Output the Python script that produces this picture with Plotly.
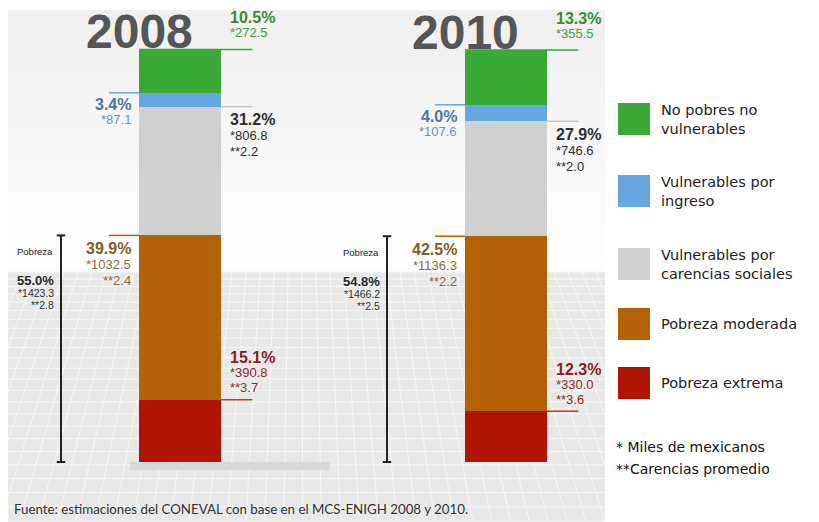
import plotly.graph_objects as go

# ---------------- data ----------------
years = ["2008", "2010"]
pobreza_extrema = [15.1, 12.3]
pobreza_moderada = [39.9, 42.5]
vuln_carencias = [31.2, 27.9]
vuln_ingreso = [3.4, 4.0]
no_pobres = [10.5, 13.3]

miles_extrema = ["390.8", "330.0"]
miles_moderada = ["1032.5", "1136.3"]
miles_carencias = ["806.8", "746.6"]
miles_ingreso = ["87.1", "107.6"]
miles_no_pobres = ["272.5", "355.5"]

car_extrema = ["3.7", "3.6"]
car_moderada = ["2.4", "2.2"]
car_carencias = ["2.2", "2.0"]

pobreza_total = [55.0, 54.8]
miles_pobreza = ["1423.3", "1466.2"]
car_pobreza = ["2.8", "2.5"]

legend_labels = ["No pobres no<br>vulnerables", "Vulnerables por<br>ingreso",
                 "Vulnerables por<br>carencias sociales", "Pobreza moderada",
                 "Pobreza extrema"]
footnotes = ["* Miles de mexicanos", "**Carencias promedio"]
source = "Fuente: estimaciones del CONEVAL con base en el MCS-ENIGH 2008 y 2010."

# ---------------- style ----------------
W, H = 819, 522
C_GREEN, C_BLUE, C_GRAY, C_ORANGE, C_RED = "#3aa935", "#65a7e0", "#d0d0d0", "#b36207", "#b01500"
T_GREEN, T_BLUE, T_GRAY, T_ORANGE, T_RED = "#3b8a33", "#4d78a3", "#2e2e2e", "#8a5a22", "#8c1d1d"
FONT = "Liberation Sans"
LFONT = "DejaVu Sans"
BAR_W = 0.2515


def px(x):
    return x / W


def py(y):
    return 1 - y / H


fig = go.Figure()
stack = [
    ("Pobreza extrema", pobreza_extrema, C_RED),
    ("Pobreza moderada", pobreza_moderada, C_ORANGE),
    ("Vulnerables por carencias sociales", vuln_carencias, C_GRAY),
    ("Vulnerables por ingreso", vuln_ingreso, C_BLUE),
    ("No pobres no vulnerables", no_pobres, C_GREEN),
]
for name, vals, col in stack:
    fig.add_trace(go.Bar(x=years, y=vals, name=name, width=BAR_W,
                         marker=dict(color=col, line=dict(width=0)),
                         showlegend=False, hoverinfo="name+y"))

shapes = []
annotations = []

# ---- background panel (stepped gradient + floor grid) ----
n_bands = 16
g0, g1 = 0xF0, 0xFE
for k in range(n_bands):
    y0 = 10 + k * (262 / n_bands)
    y1 = 10 + (k + 1) * (262 / n_bands)
    g = int(g0 + (g1 - g0) * k / (n_bands - 1))
    c = f"#{g:02x}{g:02x}{g:02x}"
    shapes.append(dict(type="rect", xref="paper", yref="paper", x0=px(8), x1=px(605),
                       y0=py(y1), y1=py(y0), fillcolor=c, line=dict(width=0), layer="below"))
shapes.append(dict(type="rect", xref="paper", yref="paper", x0=px(8), x1=px(605),
                   y0=0, y1=py(272), fillcolor="#e8e8e8", line=dict(width=0), layer="below"))
yy = 272.0
step = 7.0
while yy < H:
    shapes.append(dict(type="line", xref="paper", yref="paper", x0=px(8), x1=px(605),
                       y0=py(yy), y1=py(yy), line=dict(color="#f6f6f6", width=1), layer="below"))
    yy += step
    step += 0.35
for k in range(-10, 50):
    xt = 8 + k * 14.0
    xb = xt + (xt - 300) * 0.35
    shapes.append(dict(type="line", xref="paper", yref="paper", x0=px(xt), x1=px(xb),
                       y0=py(272), y1=0, line=dict(color="#f6f6f6", width=1), layer="below"))
# white strips outside the panel to clip the grid
shapes.append(dict(type="rect", xref="paper", yref="paper", x0=px(605), x1=1, y0=0, y1=1,
                   fillcolor="white", line=dict(width=0), layer="below"))
shapes.append(dict(type="rect", xref="paper", yref="paper", x0=0, x1=px(8), y0=0, y1=1,
                   fillcolor="white", line=dict(width=0), layer="below"))
# shadow under bars
shapes.append(dict(type="rect", xref="paper", yref="paper", x0=px(130), x1=px(330),
                   y0=py(470), y1=py(462), fillcolor="#d9d9d9", line=dict(width=0), layer="below"))


def ann(x, y, text, color, size, xanchor, yshift, bold=False, family=FONT):
    annotations.append(dict(x=x, y=y, xref="x", yref="y", text=(f"<b>{text}</b>" if bold else text),
                            showarrow=False, xanchor=xanchor, yanchor="middle", yshift=yshift,
                            font=dict(family=family, size=size, color=color)))


def hline(x0, x1, y, color):
    shapes.append(dict(type="line", xref="x", yref="y", x0=x0, x1=x1, y0=y, y1=y,
                       line=dict(color=color, width=1.5)))


half = BAR_W / 2
for i in range(len(years)):
    b_red = pobreza_extrema[i]
    b_or = b_red + pobreza_moderada[i]
    b_gr = b_or + vuln_carencias[i]
    b_bl = b_gr + vuln_ingreso[i]
    top = b_bl + no_pobres[i]
    R = i + 0.147
    L = i - 0.144

    # year title
    ann(i - half, top, years[i], "#565656", 48, "center", 18, bold=True)

    # green
    hline(i - half, i + 0.222, top, C_GREEN)
    ann(R, top, f"{no_pobres[i]:.1f}%", T_GREEN, 16, "left", 32, bold=True)
    ann(R, top, f"*{miles_no_pobres[i]}", "#4c9a42", 13, "left", 17)
    # blue
    hline(i - 0.218, i - half, b_bl, C_BLUE)
    ann(L, b_bl, f"{vuln_ingreso[i]:.1f}%", T_BLUE, 16, "right", -12, bold=True)
    ann(L, b_bl, f"*{miles_ingreso[i]}", "#6893bd", 13, "right", -27)
    # gray
    hline(i + half, i + 0.222, b_gr, "#c8c8c8")
    ann(R, b_gr, f"{vuln_carencias[i]:.1f}%", T_GRAY, 16, "left", -13, bold=True)
    ann(R, b_gr, f"*{miles_carencias[i]}", T_GRAY, 13, "left", -29)
    ann(R, b_gr, f"**{car_carencias[i]}", T_GRAY, 13, "left", -45)
    # orange
    hline(i - 0.218, i - half, b_or, C_ORANGE)
    ann(L, b_or, f"{pobreza_moderada[i]:.1f}%", T_ORANGE, 16, "right", -13, bold=True)
    ann(L, b_or, f"*{miles_moderada[i]}", "#8e6a3e", 13, "right", -29)
    ann(L, b_or, f"**{car_moderada[i]}", "#8e6a3e", 13, "right", -45)
    # red
    hline(i + half, i + 0.222, b_red, "#c23a28")
    ann(R, b_red, f"{pobreza_extrema[i]:.1f}%", T_RED, 16, "left", 42, bold=True)
    ann(R, b_red, f"*{miles_extrema[i]}", "#8e2b2b", 13, "left", 27)
    ann(R, b_red, f"**{car_extrema[i]}", "#8e2b2b", 13, "left", 12)

    # pobreza bracket
    bx = i - 0.365
    shapes.append(dict(type="line", xref="x", yref="y", x0=bx, x1=bx, y0=0, y1=pobreza_total[i],
                       line=dict(color="#222222", width=2)))
    for yv in (0, pobreza_total[i]):
        shapes.append(dict(type="line", xref="x", yref="y", x0=bx - 0.013, x1=bx + 0.013,
                           y0=yv, y1=yv, line=dict(color="#222222", width=2)))
    ann(bx - 0.018, pobreza_total[i], "Pobreza", "#222222", 9.5, "right", -16)
    ann(bx - 0.015, pobreza_total[i], f"{pobreza_total[i]:.1f}%", "#2a2a2a", 13, "right", -45, bold=True)
    ann(bx - 0.015, pobreza_total[i], f"*{miles_pobreza[i]}", "#333333", 10.5, "right", -58)
    ann(bx - 0.015, pobreza_total[i], f"**{car_pobreza[i]}", "#333333", 10.5, "right", -70)

# ---- legend (manual) ----
leg_colors = [C_GREEN, C_BLUE, C_GRAY, C_ORANGE, C_RED]
leg_tops = [103, 175, 248, 308, 367]
for lab, col, t in zip(legend_labels, leg_colors, leg_tops):
    shapes.append(dict(type="rect", xref="paper", yref="paper", x0=px(618), x1=px(650),
                       y0=py(t + 32), y1=py(t), fillcolor=col, line=dict(width=0)))
    annotations.append(dict(x=px(659), y=py(t + 16), xref="paper", yref="paper", text=lab,
                            showarrow=False, xanchor="left", yanchor="middle", align="left",
                            font=dict(family=LFONT, size=14.5, color="#222222")))
for txt, yy in zip(footnotes, [447, 469]):
    annotations.append(dict(x=px(614), y=py(yy), xref="paper", yref="paper", text=txt,
                            showarrow=False, xanchor="left", yanchor="middle",
                            font=dict(family=LFONT, size=14, color="#111111")))
annotations.append(dict(x=px(12), y=py(509), xref="paper", yref="paper", text=source,
                        showarrow=False, xanchor="left", yanchor="middle",
                        font=dict(family="Lato", size=13.3, color="#333333")))

# pixel -> axis mapping: bar centres at 180 px / 506 px, 0% at 462 px, 100% at 50 px
x_per_px = 1 / 326.0
y_per_px = 100 / 412.0
fig.update_layout(
    width=W, height=H, margin=dict(l=0, r=0, t=0, b=0),
    paper_bgcolor="white", plot_bgcolor="rgba(0,0,0,0)",
    barmode="stack", bargap=0,
    xaxis=dict(type="category", range=[-180 * x_per_px, (W - 180) * x_per_px],
               visible=False, fixedrange=True),
    yaxis=dict(range=[-(H - 462) * y_per_px, 462 * y_per_px], visible=False, fixedrange=True),
    shapes=shapes, annotations=annotations, showlegend=False,
)
fig.write_html("out.html", config={"displayModeBar": False},
               post_script="document.body.style.margin='0';document.body.style.overflow='hidden';")
